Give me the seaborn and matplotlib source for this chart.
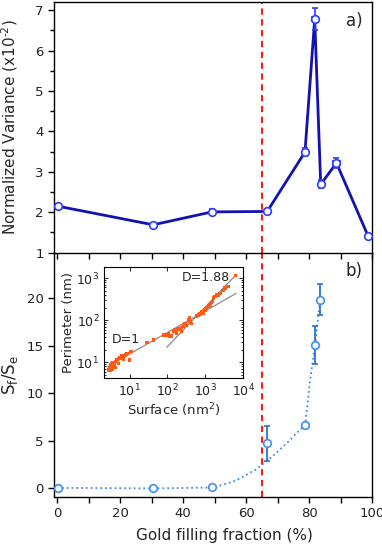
import numpy as np
import matplotlib
matplotlib.use('Agg')
import matplotlib.pyplot as plt
import seaborn as sns
from matplotlib.ticker import MultipleLocator, LogLocator, NullFormatter

sns.set_theme(style='ticks')
plt.rcParams['font.family'] = ['DejaVu Sans']
plt.rcParams['mathtext.default'] = 'regular'

# --- panel a) normalized variance ---
x_a = [0.3, 30.5, 49.2, 66.7, 78.7, 81.8, 83.7, 88.7, 98.7]
y_a = [2.15, 1.69, 2.01, 2.02, 3.49, 6.78, 2.69, 3.22, 1.42]
yerr_a = [0.06, 0.03, 0.06, 0.04, 0.1, 0.28, 0.1, 0.12, 0.03]
xerr_a = [0, 0, 0, 0, 0, 0.9, 0, 1.0, 0]

# --- panel b) Sf/Se ---
x_b = [0.2, 30.5, 49.2, 66.7, 78.6, 81.8, 83.6]
y_b = [0.0, -0.05, 0.05, 4.7, 6.65, 15.05, 19.85]
yerr_b = [0, 0, 0, 1.85, 0, 2.0, 1.6]
xerr_b = [0, 0, 0, 0, 0, 0.7, 0]

# dotted guide curve
fit_x = [0, 10, 20, 30.5, 40, 49.2, 52.2, 55.8, 58.3, 61, 63.3, 65.6, 68.3, 71.7, 73.8, 75.9, 77.8, 78.8, 80.3, 81.9, 83.5]
fit_y = [0, 0, -0.02, -0.05, 0, 0.05, 0.3, 0.66, 1.05, 1.55, 2.0, 2.6, 3.3, 4.35, 5.0, 5.75, 6.3, 6.65, 11.3, 15.0, 19.8]

# --- inset: perimeter vs surface (log10 values) ---
log_surface = [0.447, 0.491, 0.474, 0.509, 0.535, 0.561, 0.579, 0.596, 0.623, 0.667,
               0.711, 0.737, 0.754, 0.772, 0.798, 0.825, 0.842, 0.711, 0.623, 0.535,
               0.491, 0.886, 0.930, 1.000, 1.035, 1.456, 1.632, 1.895, 1.939, 1.982,
               2.026, 2.070, 2.114, 2.202, 2.246, 2.289, 2.333, 2.377, 2.421, 2.465,
               2.509, 2.553, 2.579, 2.596, 2.640, 2.246, 2.158, 2.377, 2.772, 2.816,
               2.860, 2.904, 2.947, 2.991, 3.035, 3.079, 3.123, 3.167, 3.193, 3.211,
               3.254, 3.298, 3.342, 3.386, 3.474, 3.518, 3.605, 3.807]
log_perimeter = [0.817, 0.897, 0.857, 0.937, 0.960, 0.992, 0.897, 0.937, 1.016, 1.071,
                 1.095, 1.119, 1.095, 1.119, 1.151, 1.119, 1.071, 0.976, 0.881, 0.833,
                 0.802, 1.175, 1.214, 1.056, 1.262, 1.468, 1.532, 1.651, 1.667, 1.651,
                 1.690, 1.611, 1.627, 1.786, 1.746, 1.810, 1.786, 1.833, 1.865, 1.929,
                 1.889, 2.008, 2.063, 1.968, 1.929, 1.690, 1.730, 1.730, 2.103, 2.127,
                 2.151, 2.206, 2.167, 2.246, 2.286, 2.341, 2.365, 2.421, 2.444, 2.524,
                 2.563, 2.603, 2.579, 2.627, 2.706, 2.762, 2.802, 3.056]
surface = [10 ** v for v in log_surface]
perimeter = [10 ** v for v in log_perimeter]
line1_x = [2.54, 6550]
line1_y = [7.85, 432]
line2_x = [96, 6550]
line2_y = [22.8, 1200]

threshold = 65

fig = plt.figure(figsize=(3.82, 5.45), dpi=100)
ax_b = fig.add_axes([0.1414, 0.0881, 0.8325, 0.4482])
ax_a = fig.add_axes([0.1414, 0.5363, 0.8325, 0.4600])
ax_in = fig.add_axes([0.2723, 0.3059, 0.3639, 0.2037])

dark_blue = '#1212b4'
mark_blue = '#2b3cff'
light_blue = '#3d8ef0'
err_blue = '#2a72d8'

# panel a
sns.lineplot(x=x_a, y=y_a, ax=ax_a, color=dark_blue, linewidth=2, sort=False)
ax_a.errorbar(x_a, y_a, yerr=yerr_a, xerr=xerr_a, fmt='o', color=mark_blue, ms=5.5,
              mfc='white', mec=mark_blue, mew=1.2, capsize=2, elinewidth=1.2, zorder=5)
ax_a.axvline(threshold, color='#ff1a1a', ls=(0, (3, 2.2)), lw=1.5)
ax_a.set_xlim(-1, 100)
ax_a.set_ylim(1, 7.2)
ax_a.set_yticks([1, 2, 3, 4, 5, 6, 7])
ax_a.yaxis.set_minor_locator(MultipleLocator(0.5))
ax_a.xaxis.set_major_locator(MultipleLocator(10))
ax_a.set_xticklabels([])
ax_a.set_ylabel('Normalized Variance (x10$^{\\text{-2}}$)', fontsize=11)
ax_a.yaxis.set_label_coords(-0.107, 0.5)
ax_a.text(0.97, 0.96, 'a)', transform=ax_a.transAxes, ha='right', va='top', fontsize=12)
ax_a.patch.set_visible(False)

# panel b
sns.lineplot(x=fit_x, y=fit_y, ax=ax_b, color=light_blue, linewidth=1.3, linestyle=':')
ax_b.errorbar(x_b, y_b, yerr=yerr_b, xerr=xerr_b, fmt='o', color=err_blue, ms=5.5,
              mfc='white', mec=light_blue, mew=1.2, capsize=2, elinewidth=1.3, zorder=5)
ax_b.axvline(threshold, color='#ff1a1a', ls=(0, (3, 2.2)), lw=1.5)
ax_b.set_xlim(-1, 100)
ax_b.set_ylim(-0.95, 24.8)
ax_b.set_yticks([0, 5, 10, 15, 20])
ax_b.xaxis.set_major_locator(MultipleLocator(20))
ax_b.xaxis.set_minor_locator(MultipleLocator(10))
ax_b.set_xlabel('Gold filling fraction (%)', fontsize=11)
ax_b.xaxis.set_label_coords(0.535, -0.125)
ax_b.set_ylabel('S$_f$/S$_e$', fontsize=12)
ax_b.yaxis.set_label_coords(-0.107, 0.5)
ax_b.text(0.97, 0.96, 'b)', transform=ax_b.transAxes, ha='right', va='top', fontsize=12)
ax_b.spines['top'].set_visible(False)

for ax in (ax_a, ax_b):
    for s in ax.spines.values():
        s.set_linewidth(1.0)
        s.set_color('black')
    ax.tick_params(axis='both', which='both', direction='out', length=4, width=1,
                   labelsize=9.5, colors='black', labelcolor='#222222')
    ax.tick_params(axis='both', which='minor', length=3)
    ax.tick_params(axis='x', which='minor', length=4)

# inset
sns.lineplot(x=line1_x, y=line1_y, ax=ax_in, color='#8a8a8a', linewidth=0.9)
sns.lineplot(x=line2_x, y=line2_y, ax=ax_in, color='#8a8a8a', linewidth=0.9)
sns.scatterplot(x=surface, y=perimeter, ax=ax_in, color='#ff5a14', s=6, marker='s',
                edgecolor='none', zorder=4)
ax_in.set_xscale('log')
ax_in.set_yscale('log')
ax_in.set_xlim(2.1, 9500)
ax_in.set_ylim(4.2, 1800)
ax_in.set_xticks([10, 100, 1000, 10000])
ax_in.set_yticks([10, 100, 1000])
ax_in.xaxis.set_minor_locator(LogLocator(base=10, subs=np.arange(2, 10)))
ax_in.yaxis.set_minor_locator(LogLocator(base=10, subs=np.arange(2, 10)))
ax_in.xaxis.set_minor_formatter(NullFormatter())
ax_in.yaxis.set_minor_formatter(NullFormatter())
ax_in.tick_params(axis='both', which='both', direction='in', top=True, right=True,
                  labelsize=9, width=0.6, colors='black', labelcolor='#222222')
ax_in.tick_params(which='major', length=3)
ax_in.tick_params(which='minor', length=1.5)
for s in ax_in.spines.values():
    s.set_linewidth(0.8)
    s.set_color('black')
ax_in.set_xlabel('Surface (nm$^2$)', fontsize=9.5, labelpad=1)
ax_in.set_ylabel('Perimeter (nm)', fontsize=9.5, labelpad=1)
ax_in.text(0.905, 0.965, 'D=1.88', transform=ax_in.transAxes, ha='right', va='top', fontsize=9)
ax_in.text(0.055, 0.345, 'D=1', transform=ax_in.transAxes, ha='left', va='center', fontsize=9)

fig.savefig('out.png', dpi=100)
